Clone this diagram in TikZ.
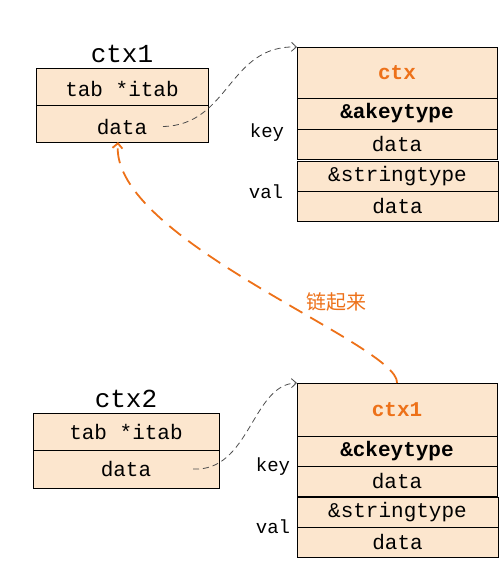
\documentclass[tikz,border=0pt]{standalone}
\usepackage{fontspec}
\setmonofont{Liberation Mono}
\newfontfamily\cjk{Noto Sans CJK SC}
\usetikzlibrary{arrows.meta,positioning}
\definecolor{cellfill}{RGB}{252,230,206}
\definecolor{linkorange}{RGB}{237,113,25}

\begin{document}
\begin{tikzpicture}[
  x=1pt, y=-1pt,
  cell/.style={rectangle, draw=black, line width=0.9pt, fill=cellfill, inner sep=0pt, outer sep=0pt,
               minimum width=#1, font=\fontsize{21}{24}\selectfont\ttfamily},
  title/.style={inner sep=0pt, font=\fontsize{26}{28}\selectfont\ttfamily},
  lbl/.style={inner sep=0pt, font=\fontsize{19}{22}\selectfont\ttfamily},
  head/.style={text=linkorange, font=\fontsize{21}{24}\selectfont\ttfamily\bfseries},
  ptr/.style={dash pattern=on 6pt off 4pt, draw=black!70, line width=0.8pt,
              -{Straight Barb[length=5pt,width=9pt]}},
  link/.style={dash pattern=on 15pt off 9pt, draw=linkorange, line width=1.8pt,
               -{Straight Barb[length=5pt,width=10pt]}},
]
\useasboundingbox (0,0) rectangle (501,562);

% ctx1 and its map entry
\node[cell=172pt, minimum height=37pt, text height=21pt, anchor=north west] (c1tab) at (36,68) {tab *itab};
\node[cell=172pt, minimum height=37pt, text height=22pt, below=0pt of c1tab] (c1data) {data};
\node[title, above=5pt of c1tab] (c1name) {ctx1};

\node[cell=200pt, minimum height=51pt, anchor=north west, head] (m1head) at (297,47) {ctx};
\node[cell=200pt, minimum height=31pt, below=0pt of m1head, font=\fontsize{21}{24}\selectfont\ttfamily\bfseries] (m1key) {\&akeytype};
\node[cell=200pt, minimum height=30pt, below=0pt of m1key] (m1kdata) {data};
\node[cell=201pt, minimum height=30pt, anchor=north west] (m1val) at (297,161) {\&stringtype};
\node[cell=201pt, minimum height=30pt, below=0pt of m1val] (m1vdata) {data};
\node[lbl] (k1) at (267,133) {key};
\node[lbl] (v1) at (266,192) {val};

% ctx2 and its map entry
\node[cell=186pt, minimum height=37pt, anchor=north west] (c2tab) at (33,413) {tab *itab};
\node[cell=186pt, minimum height=38pt, below=0pt of c2tab] (c2data) {data};
\node[title, above=5pt of c2tab] (c2name) {ctx2};

\node[cell=200pt, minimum height=53pt, anchor=north west, head] (m2head) at (297,383) {ctx1};
\node[cell=200pt, minimum height=30pt, below=0pt of m2head, font=\fontsize{21}{24}\selectfont\ttfamily\bfseries] (m2key) {\&ckeytype};
\node[cell=200pt, minimum height=30pt, below=0pt of m2key] (m2kdata) {data};
\node[cell=201pt, minimum height=30pt, anchor=north west] (m2val) at (297,497) {\&stringtype};
\node[cell=201pt, minimum height=30pt, below=0pt of m2val] (m2vdata) {data};
\node[lbl] (k2) at (273,467) {key};
\node[lbl] (v2) at (273,527) {val};

% pointers
\draw[ptr] ([xshift=-45pt,yshift=-3pt]c1data.east) .. controls (230,125) and (228,45) .. (m1head.north west);
\draw[ptr] ([xshift=-26pt]c2data.east) .. controls (250,472) and (252,384) .. (m2head.north west);
\draw[link] (m2head.north) .. controls (400,345) and (110,240) .. ([xshift=-4pt]c1data.south)
  node[pos=0.3, above=21pt, inner sep=0pt, text=linkorange, font=\fontsize{20}{23}\selectfont\cjk] (lk) {链起来};

\end{tikzpicture}
\end{document}
